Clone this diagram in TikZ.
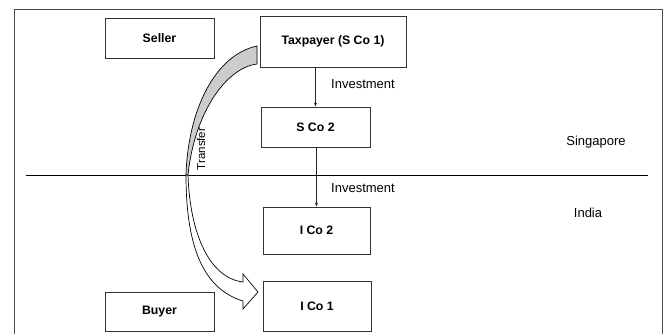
\documentclass[tikz,border=0pt]{standalone}
\usepackage{fontspec}
\setmainfont{Liberation Sans}
\usetikzlibrary{arrows.meta}
\tikzset{
  box/.style={draw=black!80, line width=0.8pt, inner sep=0pt,
    font=\fontsize{12.3}{14}\selectfont\bfseries},
  lbl/.style={inner sep=0pt, font=\fontsize{13}{15}\selectfont},
  inv/.style={draw=black!85, line width=0.6pt, -{Stealth[length=4pt,width=3pt]}},
  frame/.style={draw=black!70, line width=0.9pt},
  sep/.style={draw=black, line width=0.8pt},
  bandgrey/.style={fill=black!20, draw=black, line width=0.7pt},
  bandwhite/.style={fill=white, draw=black, line width=0.7pt, line join=miter}
}
\begin{document}
\begin{tikzpicture}[x=1pt,y=-1pt]
\useasboundingbox (0,0) rectangle (670,334);
% frame
\draw[frame] (14,334) -- (14,9) -- (662,9) -- (662,334);
% country separator
\coordinate (sepL) at (26,175);
\coordinate (sepR) at (648,175);
\draw[sep] (sepL) -- (sepR);
% boxes
\node[box, minimum width=109pt, minimum height=40pt] (seller) at (159.5,38) {Seller};
\node[box, minimum width=146pt, minimum height=51pt] (tax) at (333,41.5) {Taxpayer (S Co 1)};
\node[box, minimum width=109pt, minimum height=40pt] (sco2) at (315.5,127) {S Co 2};
\node[box, minimum width=107pt, minimum height=47pt] (ico2) at (316.5,230.5) {I Co 2};
\node[box, minimum width=108pt, minimum height=50pt] (ico1) at (317,306) {I Co 1};
\node[box, minimum width=109pt, minimum height=39pt] (buyer) at (159.5,311.5) {Buyer};
% investment arrows
\draw[inv] (tax.south -| sco2.north) -- (sco2.north);
\draw[inv] (sco2.south -| ico2.north) -- (ico2.north);
% labels
\node[lbl] (inv1) at (363,84) {Investment};
\node[lbl] (inv2) at (363,188) {Investment};
\node[lbl] (sg) at (596,142) {Singapore};
\node[lbl] (in) at (588,213) {India};
% transfer arrow (3D curved arrow)
\path[bandgrey] (257,46) .. controls (215,55) and (188,110) .. (186,175)
  -- (188,175) .. controls (194,115) and (225,68) .. (257,64) -- cycle;
\path[bandwhite] (186,175) .. controls (186,240) and (200,288) .. (243,301)
  -- (243,309) -- (258,292) -- (243,274) -- (243,282)
  .. controls (210,278) and (190,235) .. (188,175) -- cycle;
\node[rotate=90, inner sep=0pt, font=\fontsize{11.5}{13}\selectfont] (tr) at (201,149) {Transfer};
\end{tikzpicture}
\end{document}
